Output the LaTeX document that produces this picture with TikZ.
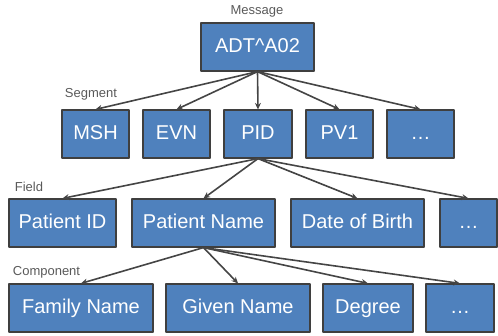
\documentclass[tikz,border=0pt]{standalone}
\usepackage{fontspec}
\setmainfont{Liberation Sans}
\usetikzlibrary{arrows.meta,shadows}

\definecolor{hlblue}{HTML}{4F81BD}
\definecolor{hledge}{HTML}{3F3F3F}
\definecolor{hlarrow}{HTML}{454545}
\definecolor{hllabel}{HTML}{595959}

\begin{document}
\begin{tikzpicture}[
    x=1pt, y=-1pt, >={Stealth[length=6.5pt,width=6pt]}, line join=round,
    box/.style={rectangle, draw=hledge, line width=1.2pt, fill=hlblue,
      text=white, minimum height=48pt, inner sep=0pt,
      text height=14.5pt, text depth=4pt,
      font=\fontsize{20}{24}\selectfont,
      drop shadow={shadow xshift=1pt, shadow yshift=-1pt, opacity=0.25}},
    level/.style={text=hllabel, font=\fontsize{13}{15}\selectfont, inner sep=0pt},
    link/.style={->, hlarrow, line width=1.6pt},
  ]
  \useasboundingbox (0,0) rectangle (498,336);

  % --- message ---
  \node[box, minimum width=113pt] (msg) at (257.5,47) {ADT\textasciicircum A02};
  \node[level] (lmsg) at (257,11) {Message};

  % --- segments ---
  \node[box, minimum width=67pt] (msh) at (95.5,134) {MSH};
  \node[box, minimum width=67pt] (evn) at (176.5,134) {EVN};
  \node[box, minimum width=68pt] (pid) at (258,134) {PID};
  \node[box, minimum width=67pt] (pv1) at (339.5,134) {PV1};
  \node[box, minimum width=67pt] (segmore) at (420.5,134) {…};
  \node[level] (lseg) at (91,94) {Segment};

  % --- fields ---
  \node[box, minimum width=107pt] (patid) at (62.5,223) {Patient ID};
  \node[box, minimum width=143pt] (patname) at (203.5,223) {Patient Name};
  \node[box, minimum width=133pt] (dob) at (357.5,223) {Date of Birth};
  \node[box, minimum width=57pt] (fldmore) at (468.5,223) {…};
  \node[level] (lfld) at (29,187) {Field};

  % --- components ---
  \node[box, minimum width=144pt] (family) at (81,308) {Family Name};
  \node[box, minimum width=144pt] (given) at (238,308) {Given Name};
  \node[box, minimum width=90pt] (degree) at (368,308) {Degree};
  \node[box, minimum width=68pt] (cmpmore) at (460,308) {…};
  \node[level] (lcmp) at (46.5,272) {Component};

  % --- links ---
  \foreach \c in {msh,evn,pid,pv1,segmore}
    \draw[link] (msg.south) -- (\c.north);
  \foreach \c in {patid,patname,dob,fldmore}
    \draw[link] (pid.south) -- (\c.north);
  \foreach \c in {family,given,degree,cmpmore}
    \draw[link] (patname.south) -- (\c.north);
\end{tikzpicture}
\end{document}
